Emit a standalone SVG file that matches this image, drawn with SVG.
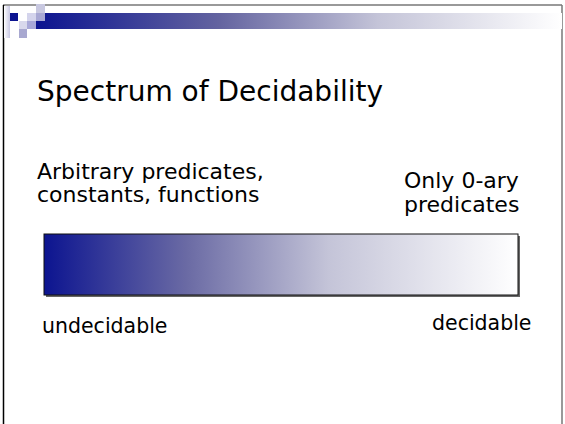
<svg xmlns="http://www.w3.org/2000/svg" width="565" height="424" viewBox="0 0 565 424">
<style>
text{font-family:"DejaVu Sans",Verdana,sans-serif;fill:#000}
.t{font-size:28px}
.b{font-size:20.5px}
.l{font-size:22px}
</style>
<defs>
<linearGradient id="hdr" x1="0" y1="0" x2="1" y2="0">
<stop offset="0" stop-color="#0c1490"/>
<stop offset="0.35" stop-color="#6464a0"/>
<stop offset="0.65" stop-color="#c4c4d8"/>
<stop offset="1" stop-color="#ffffff"/>
</linearGradient>
<linearGradient id="spec" x1="0" y1="0" x2="1" y2="0">
<stop offset="0" stop-color="#0c1490"/>
<stop offset="0.3" stop-color="#6a6aa4"/>
<stop offset="0.6" stop-color="#c4c4d8"/>
<stop offset="1" stop-color="#ffffff"/>
</linearGradient>
<linearGradient id="strip" x1="0" y1="0" x2="1" y2="0">
<stop offset="0" stop-color="#ffffff"/>
<stop offset="1" stop-color="#c8c8e4"/>
</linearGradient>
</defs>
<rect width="565" height="424" fill="#fff"/>
<g id="frame">
<line x1="3" y1="5" x2="562" y2="5" stroke="#777" stroke-width="1.5"/>
<line x1="3.5" y1="5" x2="3.5" y2="424" stroke="#000" stroke-width="1.5"/>
<line x1="562" y1="5" x2="562" y2="424" stroke="#777" stroke-width="1.5"/>
</g>
<g id="header">
<rect x="4" y="6" width="6" height="32" fill="url(#strip)"/>
<rect x="36" y="13" width="526" height="16" fill="url(#hdr)"/>
<rect x="10" y="13" width="8" height="8" fill="#0c1490"/>
<rect x="27" y="13" width="9" height="8" fill="#d4d4ec"/>
<rect x="36" y="4" width="9" height="9" fill="#c8c8e0"/>
<rect x="36" y="13" width="9" height="8" fill="#a8a8d4"/>
<rect x="19" y="21" width="8" height="8" fill="#d8d8ec"/>
<rect x="27" y="21" width="9" height="8" fill="#a8a8d8"/>
<rect x="19" y="29" width="8" height="9" fill="#a8a8d0"/>
</g>
<g id="title"><text class="t" x="37" y="101">Spectrum of Decidability</text></g>
<g id="left-label"><text class="l" x="37" y="179">Arbitrary predicates,</text><text class="l" x="37" y="202">constants, functions</text></g>
<g id="right-label"><text class="l" x="404" y="188">Only 0-ary</text><text class="l" x="404" y="212">predicates</text></g>
<g id="spectrum">
<rect x="46" y="236" width="474" height="61" fill="#666"/>
<rect x="44" y="234" width="474" height="61" fill="url(#spec)" stroke="#111" stroke-width="1"/>
</g>
<g id="low"><text class="b" x="42" y="333">undecidable</text></g>
<g id="high"><text class="b" x="432" y="330">decidable</text></g>
</svg>
